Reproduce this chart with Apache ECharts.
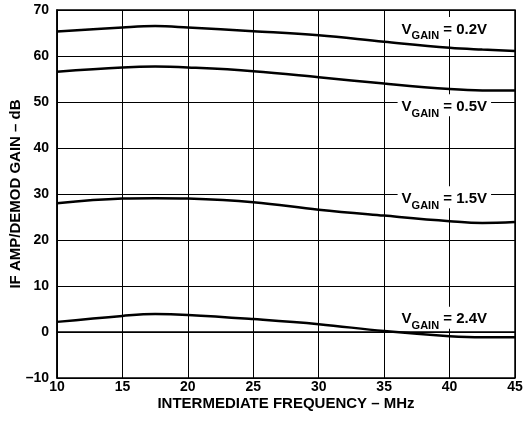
<!DOCTYPE html>
<html>
<head>
<meta charset="utf-8">
<script src="https://cdn.jsdelivr.net/npm/echarts@6/dist/echarts.min.js"></script>
<style>
  html, body { margin: 0; padding: 0; background: #fff; }
  #main { width: 523px; height: 424px; }
</style>
</head>
<body>
<div id="main"></div>
<script>
// 频率 (MHz)
var freq = [10, 15, 17.5, 20, 25, 30, 35, 40, 42.5, 45];
// 各 VGAIN 下的增益 (dB)
var gain02 = [65.3, 66.2, 66.5, 66.2, 65.4, 64.5, 63.1, 61.8, 61.4, 61.1];
var gain05 = [56.6, 57.5, 57.7, 57.5, 56.7, 55.4, 54.0, 52.8, 52.5, 52.5];
var gain15 = [28.0, 29.0, 29.1, 29.0, 28.2, 26.6, 25.3, 24.1, 23.7, 23.9];
var gain24 = [2.2, 3.5, 3.9, 3.7, 2.8, 1.7, 0.2, -0.9, -1.15, -1.15];
var labels = ['0.2V', '0.5V', '1.5V', '2.4V'];
// 标签位置（数据坐标）
var labelPos = [[39.6, 66.1], [39.6, 49.3], [39.6, 29.3], [39.6, 3.1]];

var chart = echarts.init(document.getElementById('main'));
var font = '"Liberation Sans", Arial, sans-serif';

function pairs(ys) {
    return freq.map(function (x, i) { return [x, ys[i]]; });
}

function makeSeries(ys, idx) {
    return {
        type: 'line',
        data: pairs(ys),
        smooth: 0.4,
        symbol: 'none',
        lineStyle: { color: '#000', width: 2.5 },
        markPoint: {
            symbol: 'rect',
            symbolSize: 0,
            data: [{ coord: labelPos[idx] }],
            label: {
                show: true,
                position: 'inside',
                formatter: '{v|V}{s|GAIN}{v| = ' + labels[idx] + '}',
                backgroundColor: '#fff',
                padding: [2, 4, 2, 4],
                rich: {
                    v: { fontFamily: font, fontWeight: 'bold', fontSize: 15, color: '#000', verticalAlign: 'bottom', lineHeight: 18 },
                    s: { fontFamily: font, fontWeight: 'bold', fontSize: 11, color: '#000', verticalAlign: 'bottom', lineHeight: 13, padding: [0, 0, -5, 0] }
                }
            }
        }
    };
}

var option = {
    animation: false,
    grid: {
        left: 57, right: 8, top: 10, bottom: 46,
        outerBoundsMode: 'none',
        show: true, borderColor: '#000', borderWidth: 1.5
    },
    xAxis: {
        type: 'value',
        min: 10, max: 45, interval: 5,
        name: 'INTERMEDIATE FREQUENCY – MHz',
        nameLocation: 'middle',
        nameGap: 18,
        nameMoveOverlap: false,
        nameTextStyle: { fontFamily: font, fontWeight: 'bold', fontSize: 15, color: '#000' },
        axisLine: { show: true, lineStyle: { color: '#000', width: 1.5 } },
        axisTick: { show: false },
        axisLabel: {
            fontFamily: font, fontWeight: 'bold', fontSize: 14, color: '#000', margin: 2
        },
        splitLine: { show: true, lineStyle: { color: '#000', width: 1 } }
    },
    yAxis: {
        type: 'value',
        min: -10, max: 70, interval: 10,
        name: 'IF AMP/DEMOD GAIN – dB',
        nameLocation: 'middle',
        nameGap: 34,
        nameMoveOverlap: false,
        nameTextStyle: { fontFamily: font, fontWeight: 'bold', fontSize: 15, color: '#000' },
        axisLine: { show: true, lineStyle: { color: '#000', width: 1.5 } },
        axisTick: { show: false },
        axisLabel: {
            fontFamily: font, fontWeight: 'bold', fontSize: 14, color: '#000', margin: 8,
            formatter: function (v) { return v < 0 ? '–' + Math.abs(v) : String(v); }
        },
        splitLine: { show: true, lineStyle: { color: '#000', width: 1 } }
    },
    series: [
        makeSeries(gain02, 0),
        makeSeries(gain05, 1),
        makeSeries(gain15, 2),
        makeSeries(gain24, 3)
    ]
};

chart.setOption(option);
</script>
</body>
</html>
